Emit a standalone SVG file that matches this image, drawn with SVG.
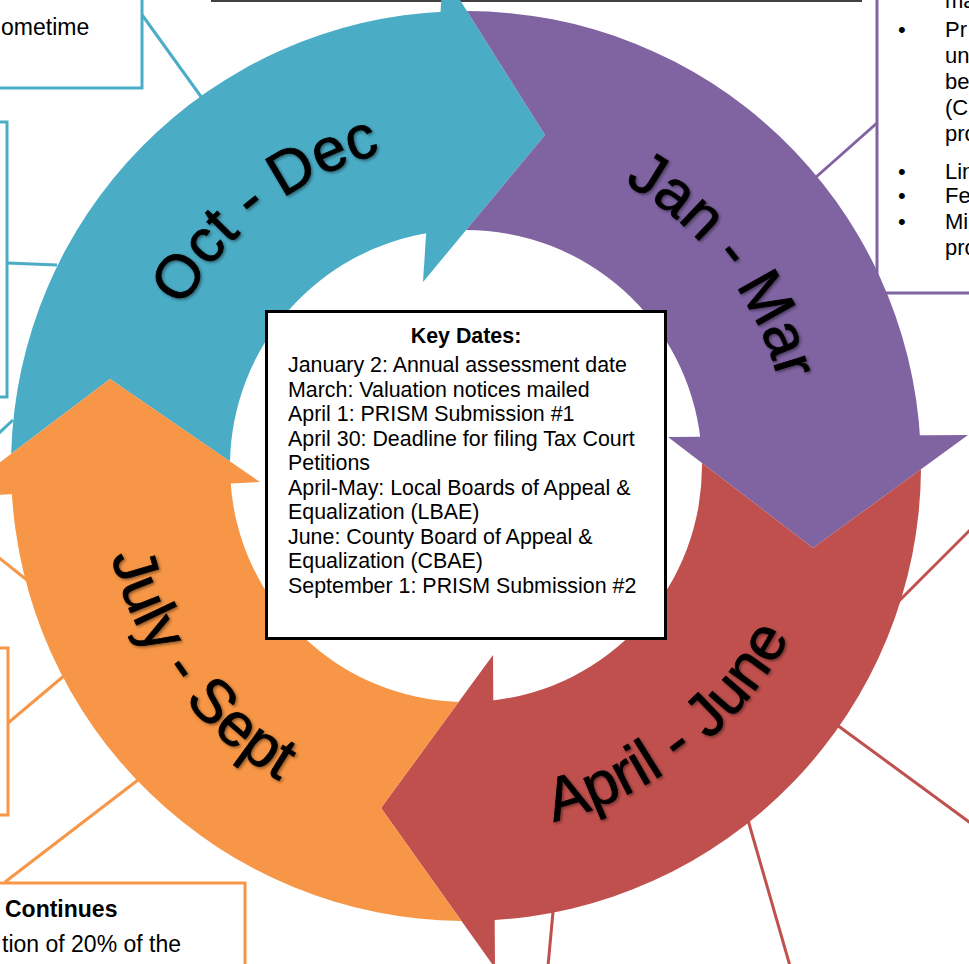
<svg xmlns="http://www.w3.org/2000/svg" width="969" height="964" viewBox="0 0 969 964">
<defs>
<style>
.t{font-family:"Liberation Sans",Arial,sans-serif;fill:#000}
.kd{font-size:21.4px}
.co{font-size:23px}
.cp{font-size:22px}
.lbl{font-family:"Liberation Sans",Arial,sans-serif;font-size:61px;fill:#000;stroke:#000;stroke-width:0.8;filter:url(#sh)}
.box{fill:#fff;stroke-width:3}
.con{fill:none;stroke-width:3}
.teal{fill:#4BACC6}.purple{fill:#8064A2}.red{fill:#C0504D}.orange{fill:#F79646}
.sTeal{stroke:#4BACC6}.sPurple{stroke:#8064A2}.sRed{stroke:#C0504D}.sOrange{stroke:#F79646}
</style>
<filter id="sh" x="-10%" y="-10%" width="120%" height="120%">
<feDropShadow dx="1.5" dy="1.5" stdDeviation="1.5" flood-color="#000" flood-opacity="0.45"/>
</filter>
<path id="arcOct" d="M 145.15 511.09 A 324 324 0 0 1 587.37 165.59"/>
<path id="arcJan" d="M 420.91 145.15 A 324 324 0 0 1 766.41 587.37"/>
<path id="arcApr" d="M 328.89 805.35 A 366 366 0 0 0 828.44 415.06"/>
<path id="arcJul" d="M 126.65 328.89 A 366 366 0 0 0 516.94 828.44"/>
</defs>
<rect x="0" y="0" width="969" height="964" fill="#fff"/>
<line x1="211" y1="1" x2="862" y2="1" stroke="#404040" stroke-width="2"/>

<g id="connectors">
<line class="con sTeal" x1="140" y1="12" x2="202" y2="98"/>
<line class="con sTeal" x1="7" y1="263" x2="57" y2="265"/>
<line class="con sTeal" x1="13" y1="420" x2="-2" y2="434"/>
<line class="con sPurple" x1="877" y1="123" x2="815" y2="178"/>
<line class="con sRed" x1="898" y1="602" x2="972" y2="528"/>
<line class="con sRed" x1="837" y1="725" x2="972" y2="824"/>
<line class="con sRed" x1="748" y1="820" x2="790" y2="966"/>
<line class="con sRed" x1="553" y1="912" x2="548" y2="966"/>
<line class="con sOrange" x1="-2" y1="557" x2="27" y2="580"/>
<line class="con sOrange" x1="8" y1="723" x2="65" y2="675"/>
<line class="con sOrange" x1="5" y1="882" x2="138" y2="780"/>
</g>

<g id="callout-teal-1">
<rect class="box sTeal" x="-10" y="-10" width="152" height="98"/>
<text class="t co" x="1" y="35">ometime</text>
</g>
<g id="callout-teal-2">
<rect class="box sTeal" x="-20" y="122" width="27" height="275"/>
</g>
<g id="callout-purple">
<rect class="box sPurple" x="877" y="-10" width="110" height="303"/>
<g class="t cp">
<text x="945" y="8">ma</text>
<text x="898" y="37">•</text><text x="945" y="37">Pr</text>
<text x="945" y="63">un</text>
<text x="945" y="89">be</text>
<text x="945" y="115">(C</text>
<text x="945" y="141">pro</text>
<text x="898" y="179">•</text><text x="945" y="179">Lin</text>
<text x="898" y="203">•</text><text x="945" y="203">Fe</text>
<text x="898" y="229">•</text><text x="945" y="229">Mi</text>
<text x="945" y="255">pro</text>
</g>
</g>
<g id="callout-orange-1">
<rect class="box sOrange" x="-20" y="648" width="28" height="167"/>
</g>
<g id="callout-orange-2">
<rect class="box sOrange" x="-10" y="883" width="255" height="100"/>
<text class="t co" x="5" y="917" font-weight="bold">Continues</text>
<text class="t co" x="2" y="952">tion of 20% of the</text>
</g>

<g id="arrow-oct-dec">
<path class="teal" d="M 11.16 453.76 A 455 455 0 0 1 446.15 11.43 L 431.12 232.59 A 236 236 0 0 0 230.05 461.43 L 110 379 Z"/>
<polygon class="teal" points="443,-27 545,135 423,282"/>
<text class="lbl"><textPath href="#arcOct" startOffset="50%" text-anchor="middle">Oct - Dec</textPath></text>
</g>
<g id="arrow-jan-mar">
<path class="purple" d="M 466.93 11.0 A 455 455 0 0 1 920.38 442.19 L 700.48 439.29 A 236 236 0 0 0 466.16 230.0 L 545 135 Z"/>
<polygon class="purple" points="968,435 813,548 668,437"/>
<text class="lbl"><textPath href="#arcJan" startOffset="50%" text-anchor="middle">Jan - Mar</textPath></text>
</g>
<g id="arrow-apr-jun">
<path class="red" d="M 920.99 469.27 A 455 455 0 0 1 485.85 920.57 L 488.62 700.91 A 236 236 0 0 0 701.98 463.01 L 813 548 Z"/>
<polygon class="red" points="495,968 381,808 493,655"/>
<text class="lbl"><textPath href="#arcApr" startOffset="50%" text-anchor="middle">April - June</textPath></text>
</g>
<g id="arrow-jul-sep">
<path class="orange" d="M 461.50 920.98 A 455 455 0 0 1 11.43 485.85 L 230.44 480.41 A 236 236 0 0 0 458.68 701.89 L 381 808 Z"/>
<polygon class="orange" points="-46,497 110,379 260,482"/>
<text class="lbl"><textPath href="#arcJul" startOffset="49%" text-anchor="middle">July - Sept</textPath></text>
</g>

<g id="key-dates">
<rect x="266.5" y="311.5" width="399" height="327" fill="#fff" stroke="#000" stroke-width="3"/>
<text class="t kd" x="466" y="343" text-anchor="middle" font-weight="bold">Key Dates:</text>
<g class="t kd">
<text x="288" y="372">January 2: Annual assessment date</text>
<text x="288" y="396.5">March: Valuation notices mailed</text>
<text x="288" y="421">April 1: PRISM Submission #1</text>
<text x="288" y="445.5">April 30: Deadline for filing Tax Court</text>
<text x="288" y="470">Petitions</text>
<text x="288" y="494.5">April-May: Local Boards of Appeal &amp;</text>
<text x="288" y="519">Equalization (LBAE)</text>
<text x="288" y="543.5">June: County Board of Appeal &amp;</text>
<text x="288" y="568">Equalization (CBAE)</text>
<text x="288" y="592.5">September 1: PRISM Submission #2</text>
</g>
</g>
</svg>
